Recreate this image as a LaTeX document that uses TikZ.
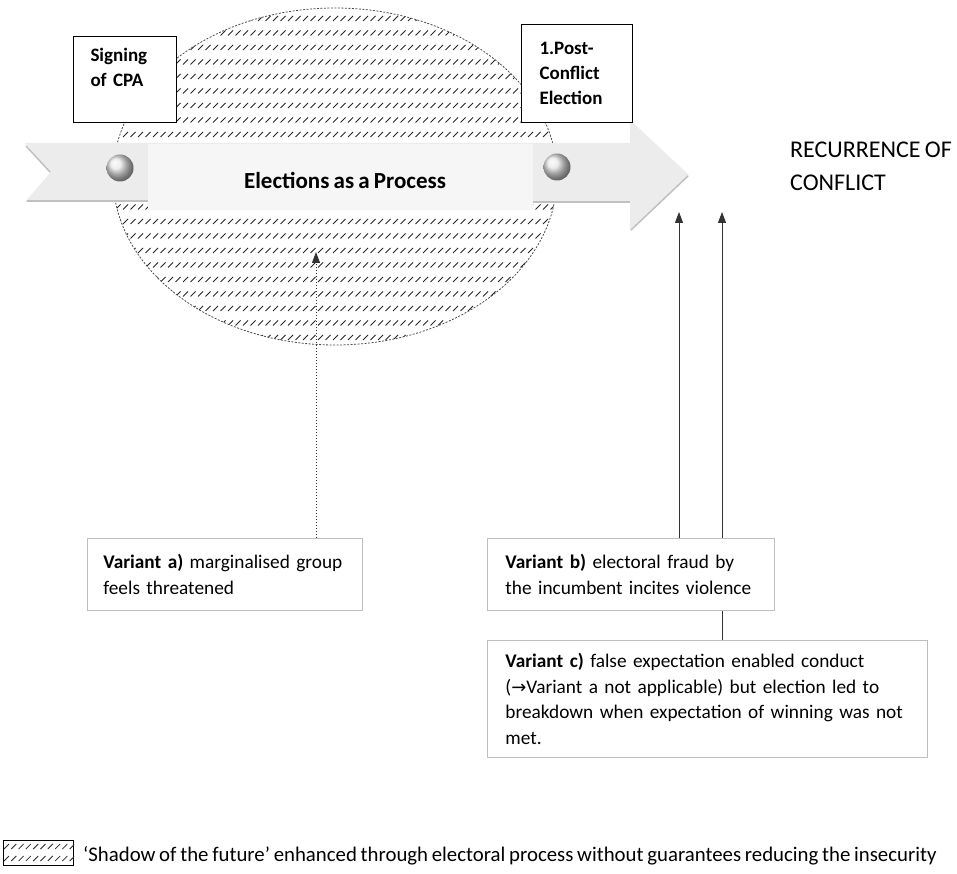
\documentclass[tikz,border=0pt]{standalone}
\usepackage{fontspec}
\setmainfont{Carlito}[WordSpace=0.8]
\newfontfamily\symfont{DejaVu Sans}
\usetikzlibrary{arrows.meta}
\definecolor{arrowfill}{RGB}{236,236,236}
\definecolor{bandfill}{RGB}{246,246,246}
\definecolor{edgegray}{RGB}{192,192,192}
\definecolor{boxgray}{RGB}{190,190,190}
\definecolor{hatchcol}{RGB}{40,40,40}
\tikzset{
  hatch/.style={draw=hatchcol, line width=1pt},
  topbox/.style={draw=black, line width=1pt, fill=white, anchor=north west, align=left,
     inner ysep=0pt, font=\fontsize{19}{25}\selectfont\bfseries},
  vbox/.style={draw=boxgray, line width=0.9pt, fill=white, anchor=north west, align=left,
     inner ysep=0pt, font=\fontsize{19.3}{25.5}\selectfont},
  conn/.style={draw=black!80, line width=0.9pt, -{Triangle[width=8pt,length=11pt]}},
  dotconn/.style={conn, dash pattern=on 1pt off 2pt},
  ballst/.style={circle, inner sep=0pt, minimum size=27pt, shading=ball, ball color=gray!18},
}
\begin{document}
\begin{tikzpicture}[x=1pt,y=-1pt]
\useasboundingbox (0,0) rectangle (957,874);
% hatched ellipse
\begin{scope}
  \clip (335,176.5) ellipse [x radius=222, y radius=168.5];
  \foreach \r in {0,...,24} {
    \pgfmathsetmacro\yy{4+14.5*\r}
    \draw[hatch] \foreach \c in {0,...,61} { ({108+7.5*\c},{\yy+2.5}) -- ++(5,-5) };
  }
\end{scope}
\draw[black!70, line width=0.8pt, dash pattern=on 2pt off 1.5pt] (335,176.5) ellipse [x radius=222, y radius=168.5];
% process arrow
\fill[arrowfill] (25,143) -- (630,143) -- (630,120) -- (689,175) -- (630,231) -- (630,202) -- (25,202) -- (50,173) -- cycle;
\fill[bandfill] (148,144) rectangle (533,210);
\draw[edgegray, line width=2pt] (27,201) -- (148,201);
\draw[edgegray, line width=2pt] (533,202) -- (630,202);
\draw[edgegray, line width=1.5pt] (631,230) -- (688,176);
\draw[edgegray, line width=1.5pt] (26,146) -- (50,172);
\node[ballst] (b1) at (120,168) {};
\node[ballst] (b2) at (557,167) {};
\node[font=\fontsize{23}{28}\selectfont\bfseries] (proc) at (345,180) {Elections as a Process};
% top boxes
\node[topbox, text width=69pt, inner xsep=17pt, minimum height=86pt] (cpa) at (73,36) {Signing\\of CPA\\~};
\node[topbox, text width=75pt, inner xsep=18pt, minimum height=98pt] (post) at (521,24) {1.Post-\\Conflict\\Election};
% outcome
\node[anchor=west, align=left, inner sep=0pt, font=\fontsize{24}{33}\selectfont] (rec) at (790,166) {RECURRENCE OF\\CONFLICT};
% arrow tips
\coordinate (ta) at (316,252);
\coordinate (tb) at (679,212);
\coordinate (tc) at (722,212);
% variant c (behind b)
\node[vbox, text width=404pt, inner xsep=18pt, minimum height=117pt] (vc) at (487,640)
  {\textbf{Variant c)} false expectation enabled conduct\\({\symfont\fontsize{18}{20}\selectfont →}Variant a not applicable) but election led to\\breakdown when expectation of winning was not\\met.};
\draw[conn] (vc.north -| tc) -- (tc);
\node[vbox, text width=251pt, inner xsep=18pt, minimum height=72pt] (vb) at (487,538)
  {\textbf{Variant b)} electoral fraud by\\the incumbent incites violence};
\node[vbox, text width=243pt, inner xsep=16pt, minimum height=72pt] (va) at (87,538)
  {\textbf{Variant a)} marginalised group\\feels threatened};
\draw[conn] (vb.north -| tb) -- (tb);
\draw[dotconn] (va.north -| ta) -- (ta);
% legend
\node[draw=black, line width=1.2pt, anchor=north west, minimum width=70pt, minimum height=25pt, inner sep=0pt] (leg) at (3,840) {};
\begin{scope}
  \clip (leg.south west) rectangle (leg.north east);
  \foreach \yy in {846.5,858.5} {
    \draw[hatch, line width=0.8pt] \foreach \c in {0,...,9} { ({4+7.3*\c},{\yy+2.5}) -- ++(5,-5) };
  }
\end{scope}
\node[anchor=west, inner sep=0pt, font=\fontsize{20.8}{24}\selectfont] (legtext) at (83,856)
  {‘Shadow of the future’ enhanced through electoral process without guarantees reducing the insecurity};
\end{tikzpicture}
\end{document}
